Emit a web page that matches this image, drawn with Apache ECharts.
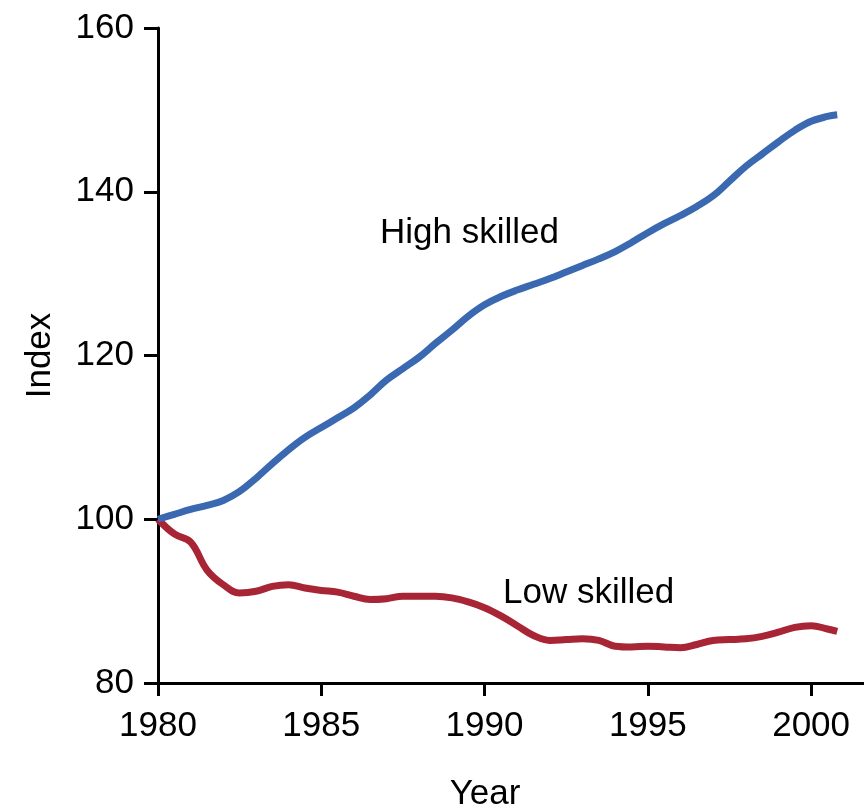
<!DOCTYPE html>
<html>
<head>
<meta charset="utf-8">
<script src="https://cdn.jsdelivr.net/npm/echarts@6/dist/echarts.min.js"></script>
<style>html,body{margin:0;padding:0;background:#fff;}#c{width:864px;height:805px;}</style>
</head>
<body>
<div id="c"></div>
<script>
const years = [1980, 1980.5, 1981, 1981.5, 1982, 1982.5, 1983, 1983.5, 1984, 1984.5, 1985, 1985.5, 1986, 1986.5, 1987, 1987.5, 1988, 1988.5, 1989, 1989.5, 1990, 1990.5, 1991, 1991.5, 1992, 1992.5, 1993, 1993.5, 1994, 1994.5, 1995, 1995.5, 1996, 1996.5, 1997, 1997.5, 1998, 1998.5, 1999, 1999.5, 2000, 2000.5, 2000.8];
const highSkilled = [100.0, 100.6, 101.2, 101.7, 102.3, 103.4, 105.0, 106.8, 108.5, 110.0, 111.2, 112.4, 113.6, 115.2, 117.0, 118.4, 119.8, 121.5, 123.1, 124.8, 126.2, 127.2, 128.0, 128.7, 129.4, 130.2, 131.0, 131.8, 132.7, 133.8, 135.0, 136.1, 137.1, 138.2, 139.5, 141.3, 143.1, 144.6, 146.1, 147.5, 148.6, 149.2, 149.4];
const lowSkilled = [100.0, 98.2, 97.2, 93.8, 92.0, 91.0, 91.2, 91.8, 92.0, 91.6, 91.3, 91.1, 90.6, 90.2, 90.3, 90.6, 90.6, 90.6, 90.4, 89.9, 89.2, 88.2, 87.0, 85.8, 85.2, 85.3, 85.4, 85.2, 84.5, 84.4, 84.5, 84.4, 84.3, 84.7, 85.2, 85.3, 85.4, 85.7, 86.2, 86.8, 87.0, 86.6, 86.3];
const yTicks = [80, 100, 120, 140, 160];
const xTicks = [1980, 1985, 1990, 1995, 2000];
const seriesNames = ['High skilled', 'Low skilled'];

const font = '"Liberation Sans", Arial, sans-serif';
const chart = echarts.init(document.getElementById('c'), null, {renderer: 'canvas'});
const pair = (ys) => years.map((x, i) => [x, ys[i]]);
chart.setOption({
  animation: false,
  backgroundColor: '#fff',
  grid: {left: 158, right: 0, top: 28, bottom: 122, containLabel: false, outerBoundsMode: 'none'},
  xAxis: {
    type: 'value', min: xTicks[0], max: 2001.62, interval: 5,
    name: 'Year', nameLocation: 'middle', nameGap: 94,
    nameTextStyle: {fontFamily: font, fontSize: 35, color: '#000', padding: [0, 52, 0, 0]},
    axisLine: {lineStyle: {color: '#000', width: 3}},
    axisTick: {show: true, length: 13, lineStyle: {color: '#000', width: 3}},
    axisLabel: {fontFamily: font, fontSize: 35, color: '#000', margin: 26, showMaxLabel: false,
      formatter: v => xTicks.includes(v) ? String(v) : ''},
    splitLine: {show: false}
  },
  yAxis: {
    type: 'value', min: yTicks[0], max: yTicks[yTicks.length - 1], interval: 20,
    name: 'Index', nameLocation: 'middle', nameGap: 100, nameRotate: 90,
    nameTextStyle: {fontFamily: font, fontSize: 35, color: '#000'},
    axisLine: {show: true, lineStyle: {color: '#000', width: 3}},
    axisTick: {show: true, length: 14, lineStyle: {color: '#000', width: 3}},
    axisLabel: {fontFamily: font, fontSize: 35, color: '#000', margin: 24},
    splitLine: {show: false}
  },
  series: [
    {name: seriesNames[0], type: 'line', data: pair(highSkilled), smooth: 0.4, showSymbol: false,
      lineStyle: {color: '#3a69b1', width: 7}, z: 3},
    {name: seriesNames[1], type: 'line', data: pair(lowSkilled), smooth: 0.4, showSymbol: false,
      lineStyle: {color: '#a82535', width: 7}, z: 2}
  ],
  graphic: [
    {type: 'text', left: 380, top: 216, style: {text: seriesNames[0], font: '35px ' + font, fill: '#000'}},
    {type: 'text', left: 503, top: 576, style: {text: seriesNames[1], font: '35px ' + font, fill: '#000'}}
  ]
});
</script>
</body>
</html>
